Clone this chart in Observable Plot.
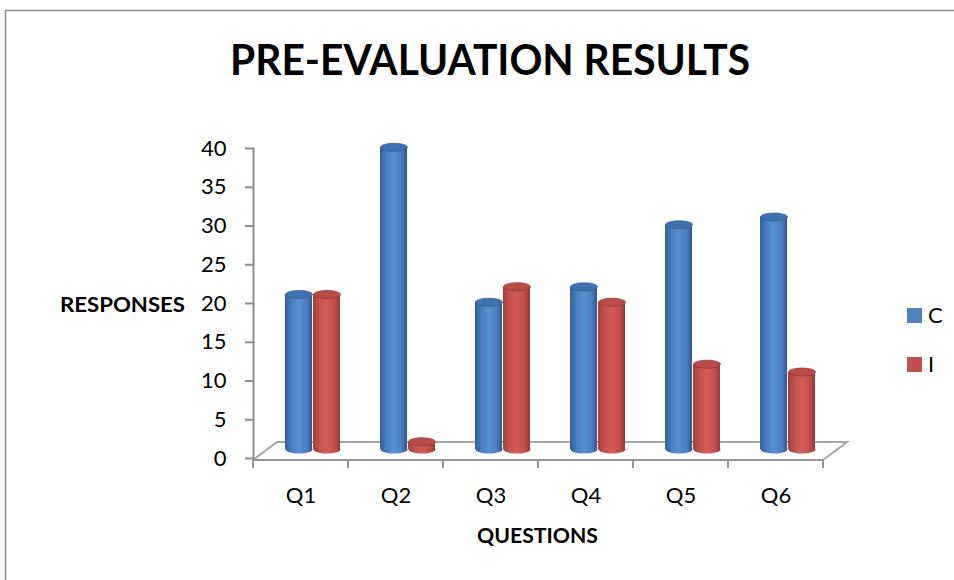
<!DOCTYPE html>
<html><head><meta charset="utf-8">
<script src="https://cdn.jsdelivr.net/npm/d3@7"></script>
<script src="https://cdn.jsdelivr.net/npm/@observablehq/plot@0.6"></script>
<style>body{margin:0;background:#fff;} svg{display:block;}</style>
</head><body><div id="chart"></div>
<script>
const questions = ["Q1","Q2","Q3","Q4","Q5","Q6"];
const seriesNames = ["C","I"];
const correct = [20,39,19,21,29,30];
const incorrect = [20,1,21,19,11,10];
const yTicks = [0,5,10,15,20,25,30,35,40];
const chartTitle = "PRE-EVALUATION RESULTS";
const yTitle = "RESPONSES";
const xTitle = "QUESTIONS";

const dataC = questions.map((q,i)=>({q, v: correct[i]}));
const dataI = questions.map((q,i)=>({q, v: incorrect[i]}));

const depth = -9;
function ellipse(rx, ry){
  return {draw(ctx){ const k=0.5523;
    ctx.moveTo(-rx,0);
    ctx.bezierCurveTo(-rx,-ry*k,-rx*k,-ry,0,-ry);
    ctx.bezierCurveTo(rx*k,-ry,rx,-ry*k,rx,0);
    ctx.bezierCurveTo(rx,ry*k,rx*k,ry,0,ry);
    ctx.bezierCurveTo(-rx*k,ry,-rx,ry*k,-rx,0);
    ctx.closePath(); }};
}
const cap = ellipse(13.5, 4);

function cylinders(data, grad, capFill, capStroke, insetLeft, insetRight, dx){
  return [
    Plot.dot(data, {x:"q", y:()=>0, symbol:cap, fill:grad, stroke:"none", dx, dy:depth}),
    Plot.barY(data, {x:"q", y:"v", fill:grad, insetLeft, insetRight, dy:depth}),
    Plot.dot(data, {x:"q", y:"v", symbol:cap, fill:capFill, stroke:capStroke, strokeWidth:0.7, dx, dy:depth})
  ];
}

function floor(index, {x, y}, values, dims){
  const x0 = dims.marginLeft, x1 = dims.width - dims.marginRight;
  const y0 = y(0) + 2, ox = 24, oy = -18;
  const g = d3.create("svg:g").attr("fill","none").attr("stroke","#959595").attr("stroke-width",2);
  g.append("path").attr("d", `M${x0},${y0}L${x0+ox},${y0+oy}L${x1+ox},${y0+oy}L${x1},${y0}`).attr("stroke","#a6a6a6");
  g.append("path").attr("d", `M${x0},${y0}H${x1}`);
  const bounds = questions.map(q => x(q)).concat([x(questions[questions.length-1]) + x.bandwidth()]);
  for (const b of bounds) g.append("path").attr("d", `M${b},${y0}V${y0+8}`);
  return g.node();
}

const plot = Plot.plot({
  width: 954, height: 580,
  marginLeft: 253, marginRight: 131, marginTop: 148, marginBottom: 122,
  style: {fontFamily: "Lato, 'Open Sans', sans-serif", background: "#fff"},
  x: {type:"band", domain: questions, padding: 0},
  y: {domain: [0,40]},
  marks: [
    floor,
    Plot.frame({anchor:"left", stroke:"#8e8e8e", strokeWidth:2}),
    Plot.axisY(yTicks, {tickSize:8, tickPadding:19, fontSize:22, stroke:"#8e8e8e", strokeWidth:2, color:"#000", label:null}),
    Plot.axisX({tickSize:0, tickPadding:29, fontSize:22, color:"#000", label:null}),
    ...cylinders(dataC, "url(#gradC)", "#3f70b0", "#2f5a8f", 32, 36, -2),
    ...cylinders(dataI, "url(#gradI)", "#b84c49", "#8f3532", 60, 8, 26)
  ]
});
document.getElementById("chart").appendChild(plot);

const svg = d3.select(plot);
const defs = svg.insert("defs", ":first-child");
function grad(id, stops){
  const g = defs.append("linearGradient").attr("id", id).attr("x1","0").attr("x2","1").attr("y1","0").attr("y2","0");
  for (const [o,c] of stops) g.append("stop").attr("offset", o).attr("stop-color", c);
}
grad("gradC", [[0,"#33609a"],[0.25,"#4a7fc0"],[0.5,"#5790d2"],[0.8,"#4a7ec0"],[1,"#30598f"]]);
grad("gradI", [[0,"#a3403d"],[0.25,"#c4524f"],[0.5,"#d25b58"],[0.8,"#c04f4c"],[1,"#963835"]]);

svg.append("path").attr("d","M5.5,580V10.5H954").attr("fill","none").attr("stroke","#8c8c8c").attr("stroke-width",1.5);

function label(txt, x, y, size, weight, anchor, len){
  const t = svg.append("text").text(txt).attr("x",x).attr("y",y)
    .attr("font-family","Lato, 'Open Sans', sans-serif").attr("font-size",size)
    .attr("font-weight",weight).attr("text-anchor",anchor).attr("fill","#000");
  if (len) t.attr("textLength",len).attr("lengthAdjust","spacingAndGlyphs");
  return t;
}
label(chartTitle, 490, 75, 42, "bold", "middle", 520);
label(yTitle, 60, 312, 20, "bold", "start", 125);
label(xTitle, 537.5, 543, 20, "bold", "middle", 121);

const legendColors = ["#4F81BD","#C0504D"];
seriesNames.forEach((s,i)=>{
  const yy = 308 + i*49;
  svg.append("rect").attr("x",907).attr("y",yy).attr("width",15).attr("height",15).attr("fill",legendColors[i]);
  label(s, 928, yy+15, 22, "normal", "start");
});
</script></body></html>
